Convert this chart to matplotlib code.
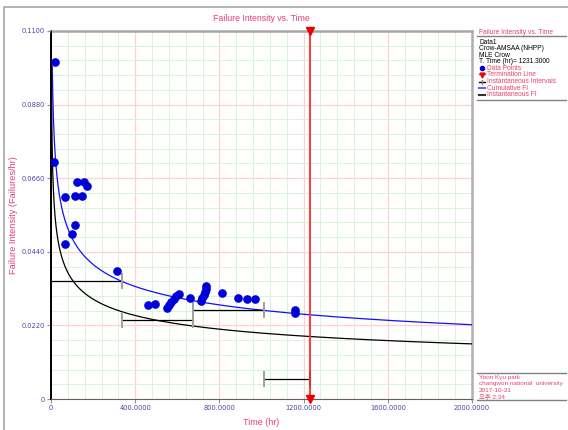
import numpy as np
import matplotlib
matplotlib.use('Agg')
import matplotlib.pyplot as plt
from matplotlib.ticker import MultipleLocator, FuncFormatter

# data points (time, cumulative failure intensity)
pt_time = [14, 20, 65, 66.5, 101, 115.5, 115.5, 123.5, 149, 155, 172.5, 313,
           461, 493, 550, 562, 571, 582, 594, 606, 660, 711, 719, 727, 733,
           737, 738, 814, 887, 929.5, 969, 1158, 1158]
pt_fi = [0.0707, 0.1008, 0.0463, 0.0604, 0.0493, 0.0519, 0.0606, 0.0650,
         0.0606, 0.0650, 0.0636, 0.0384, 0.0282, 0.0283, 0.0271, 0.0282,
         0.0291, 0.0300, 0.0307, 0.0313, 0.0303, 0.0294, 0.0301, 0.0311,
         0.0321, 0.0330, 0.0339, 0.0318, 0.0303, 0.0300, 0.0298, 0.0256, 0.0266]

# crow-amsaa fit
beta = 0.742
lam = 0.1578
term_time = 1231.3

# instantaneous intervals
int_start = [0, 336, 673, 1012]
int_end = [336, 673, 1012, 1231.3]
int_fi = [0.0354, 0.0235, 0.0265, 0.0059]

pink = '#e8406e'
tickc = '#4646a8'

fig = plt.figure(figsize=(5.68, 4.30), dpi=100)
ax = fig.add_axes([51/568, 31/430, 421/568, 368/430])

ax.set_xlim(0, 2000)
ax.set_ylim(0, 0.11)
ax.xaxis.set_major_locator(MultipleLocator(400))
ax.xaxis.set_minor_locator(MultipleLocator(80))
ax.yaxis.set_major_locator(MultipleLocator(0.022))
ax.yaxis.set_minor_locator(MultipleLocator(0.0044))
fmt = FuncFormatter(lambda v, p: '0' if abs(v) < 1e-12 else f'{v:.4f}')
ax.xaxis.set_major_formatter(fmt)
ax.yaxis.set_major_formatter(fmt)
ax.grid(True, which='major', color='#ffd0d0', lw=0.9)
ax.grid(True, which='minor', color='#d6f5d6', lw=0.7)
ax.set_axisbelow(True)
ax.tick_params(which='major', length=3, color='#909090', labelsize=4.8,
               labelcolor=tickc, pad=1.5)
ax.tick_params(which='minor', length=0)

ax.spines['left'].set_color('black')
ax.spines['left'].set_linewidth(1.4)
ax.spines['bottom'].set_color('#606060')
ax.spines['top'].set_color('#a8a8a8')
ax.spines['top'].set_linewidth(1.8)
ax.spines['right'].set_color('#b0b0b0')
ax.spines['right'].set_linewidth(1.8)

t1 = np.geomspace(6, 2000, 500)
ax.plot(t1, lam*t1**(beta-1), color='#1010ff', lw=0.9, zorder=3)
t2 = np.geomspace(0.3, 2000, 600)
ax.plot(t2, lam*beta*t2**(beta-1), color='black', lw=0.9, zorder=3)

tk = 0.0021
for i in range(len(int_fi)):
    ax.plot([int_start[i], int_end[i]], [int_fi[i], int_fi[i]], color='black', lw=0.9, zorder=4)
    if int_start[i] > 0:
        ax.plot([int_start[i], int_start[i]], [int_fi[i]-tk, int_fi[i]+tk], color='#a0a0a0', lw=1.4, zorder=4)
    c = '#303030' if i == len(int_fi)-1 else '#a0a0a0'
    ax.plot([int_end[i], int_end[i]], [int_fi[i]-tk, int_fi[i]+tk], color=c, lw=1.4, zorder=4)

ax.plot(pt_time, pt_fi, 'o', color='#0000d8', ms=5.2, zorder=5)

ax.axvline(term_time, color='#ff2a2a', lw=1.3, zorder=6)
ax.plot([term_time, term_time], [0.11, 0.0], 'v', color='#ee0000', ms=6,
        clip_on=False, zorder=7)

ax.set_title('Failure Intensity vs. Time', color=pink, fontsize=6.3, pad=7,
             family='Liberation Sans')
ax.set_xlabel('Time (hr)', color=pink, fontsize=6.5, labelpad=5, family='Liberation Sans')
ax.set_ylabel('Failure Intensity (Failures/hr)', color=pink, fontsize=6.6,
              family='Liberation Sans')
ax.yaxis.set_label_coords(-0.079, 0.5)

# overlay in pixel coords for frame and side panel
ov = fig.add_axes([0, 0, 1, 1], facecolor='none')
ov.set_xlim(0, 568)
ov.set_ylim(430, 0)
ov.axis('off')
ov.plot([4, 4, 568], [430, 7, 7], color='#a8a8a8', lw=1.2)

ff = ['Liberation Sans', 'Noto Sans CJK KR', 'DejaVu Sans']
fs = 4.8
ov.text(479, 32, 'Failure Intensity vs. Time', color=pink, fontsize=fs, va='center', family=ff)
ov.plot([477, 566], [36, 36], color='#808080', lw=1.0)
info = ['Data1', 'Crow-AMSAA (NHPP)', 'MLE Crow', 'T. Time (hr)= 1231.3000']
ys = 42
step = 6.6
for s in info:
    ov.text(479, ys, s, color='black', fontsize=fs, va='center', family=ff)
    ys += step
entries = ['Data Points', 'Termination Line', 'Instantaneous Intervals',
           'Cumulative FI', 'Instantaneous FI']
for j, s in enumerate(entries):
    yy = ys + j*step
    ov.text(487, yy, s, color=pink, fontsize=fs, va='center', family=ff)
    if j == 0:
        ov.plot(482, yy, 'o', color='#0000d8', ms=3)
    elif j == 1:
        ov.plot([479, 485], [yy-1, yy-1], color='#ff2a2a', lw=1)
        ov.plot(482, yy, 'v', color='#ee0000', ms=3.5)
    elif j == 2:
        ov.plot([479, 485], [yy, yy], color='black', lw=1)
        ov.plot([482, 482], [yy-2, yy+2], color='#808080', lw=1)
    elif j == 3:
        ov.plot([479, 485], [yy, yy], color='#6060ff', lw=1.5)
    else:
        ov.plot([479, 485], [yy, yy], color='#303030', lw=1.5)
ov.plot([477, 566], [ys + 4*step + 5, ys + 4*step + 5], color='#808080', lw=1.0)

ov.plot([477, 566], [372.5, 372.5], color='#808080', lw=1.0)
credit = ['Yoon Kyu park', 'changwon national  university', '2017-10-31', '오후 2:34']
for j, s in enumerate(credit):
    ov.text(479, 377 + j*6.5, s, color=pink, fontsize=4.6, va='center', family=ff)
ov.plot([477, 566], [400, 400], color='#808080', lw=1.0)

fig.savefig('out.png', dpi=100)
